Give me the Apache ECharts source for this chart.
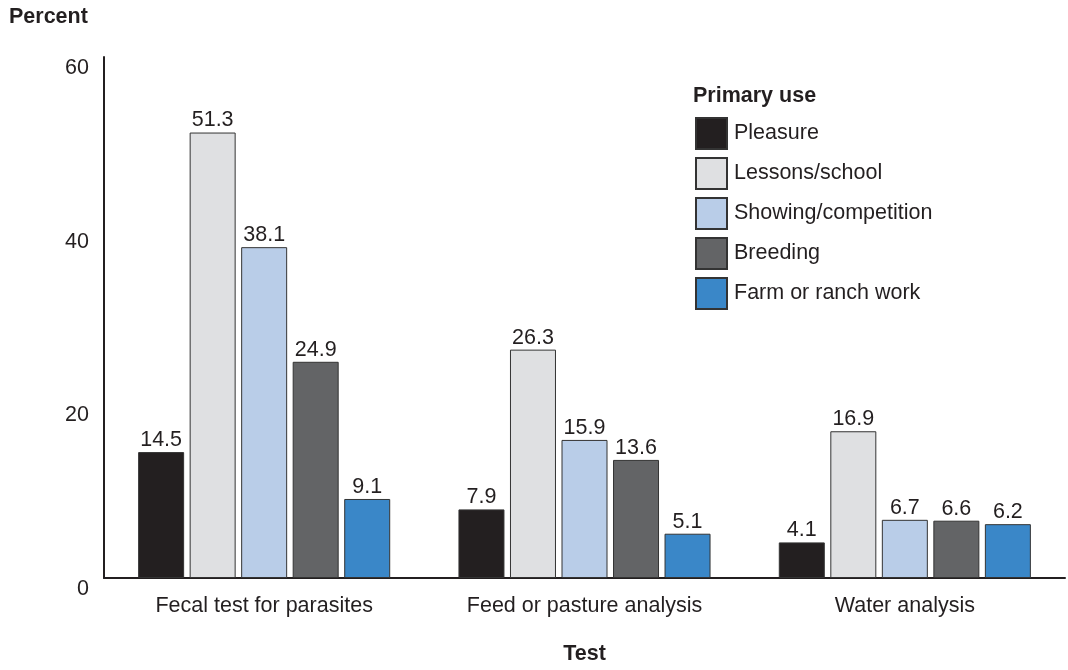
<!DOCTYPE html>
<html>
<head>
<meta charset="utf-8">
<script src="https://cdn.jsdelivr.net/npm/echarts@6/dist/echarts.min.js"></script>
<style>html,body{margin:0;padding:0;background:#fff;}#c{width:1068px;height:670px;}</style>
</head>
<body>
<div id="c"></div>
<script>
const categories = ["Fecal test for parasites", "Feed or pasture analysis", "Water analysis"];
const seriesNames = ["Pleasure", "Lessons/school", "Showing/competition", "Breeding", "Farm or ranch work"];
const pleasure = [14.5, 7.9, 4.1];
const lessons = [51.3, 26.3, 16.9];
const showing = [38.1, 15.9, 6.7];
const breeding = [24.9, 13.6, 6.6];
const farm = [9.1, 5.1, 6.2];
const yTicks = [0, 20, 40, 60];

const colors = ["#231f20", "#dfe0e2", "#b9cde8", "#636466", "#3a87c8"];
const values = [pleasure, lessons, showing, breeding, farm];
const FONT = "'Liberation Sans', Arial, sans-serif";
const TXT = "#231f20";
const FS = 21.5;

const chart = echarts.init(document.getElementById('c'), null, {renderer: 'canvas'});
chart.setOption({
  animation: false,
  backgroundColor: '#fff',
  textStyle: {fontFamily: FONT},
  title: [
    {text: 'Percent', left: 4, top: 1, textStyle: {fontSize: FS, fontWeight: 'bold', color: TXT, fontFamily: FONT}},
    {text: 'Primary use', left: 688, top: 80, textStyle: {fontSize: FS, fontWeight: 'bold', color: TXT, fontFamily: FONT}}
  ],
  legend: {
    orient: 'vertical',
    left: 690,
    top: 112,
    itemWidth: 31,
    itemHeight: 31,
    itemGap: 7,
    icon: 'rect',
    textStyle: {fontSize: FS, color: TXT, fontFamily: FONT, padding: [0, 0, 0, 2]},
    data: seriesNames
  },
  grid: {left: 104, right: 3, top: 57, bottom: 90, containLabel: false},
  xAxis: {
    type: 'category',
    data: categories,
    name: 'Test',
    nameLocation: 'middle',
    nameGap: 65,
    nameTextStyle: {fontSize: FS, fontWeight: 'bold', color: TXT, fontFamily: FONT},
    axisLine: {lineStyle: {color: TXT, width: 2}},
    axisTick: {show: false},
    axisLabel: {fontSize: FS, color: TXT, margin: 17, fontFamily: FONT}
  },
  yAxis: {
    type: 'value',
    min: yTicks[0],
    max: yTicks[yTicks.length - 1],
    interval: yTicks[1] - yTicks[0],
    splitLine: {show: false},
    axisLine: {show: true, lineStyle: {color: TXT, width: 2}},
    axisTick: {show: false},
    axisLabel: {fontSize: FS, color: TXT, margin: 15, verticalAlign: 'top', fontFamily: FONT}
  },
  series: seriesNames.map((name, i) => ({
    name: name,
    type: 'bar',
    data: values[i],
    barWidth: 46,
    barGap: '12%',
    itemStyle: {color: colors[i], borderColor: '#333333', borderWidth: 1},
    label: {
      show: true,
      position: 'top',
      distance: 1,
      fontSize: FS,
      color: TXT,
      fontFamily: FONT,
      formatter: p => p.value.toFixed(1)
    }
  }))
});
</script>
</body>
</html>
